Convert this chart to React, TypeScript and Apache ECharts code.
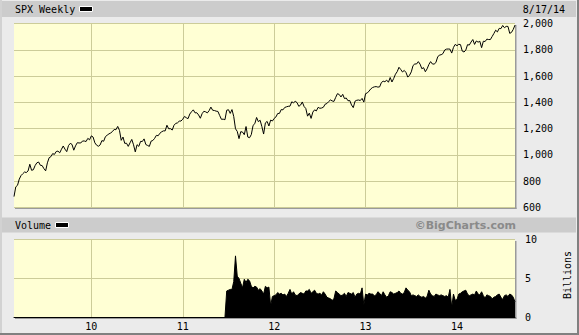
import React, { useEffect, useRef } from "react";
import * as echarts from "echarts";

// Weekly categories are keyed by year code + week number within that year.
const YEARS = ["09", "10", "11", "12", "13", "14"];

// SPX weekly closes
const spx09 = [683, 757, 769, 816, 843, 857, 870, 866, 878, 929, 883, 887, 919, 940, 946, 921, 919, 896, 879, 940, 979, 987, 1010, 1004, 1026, 1029, 1016, 1043, 1068, 1044, 1025, 1071, 1088, 1080, 1036, 1069, 1093, 1091, 1091, 1106, 1106, 1102, 1126, 1115];
const spx10 = [1145, 1136, 1092, 1074, 1066, 1076, 1109, 1104, 1139, 1150, 1160, 1167, 1178, 1194, 1192, 1217, 1187, 1111, 1136, 1088, 1089, 1065, 1092, 1118, 1077, 1023, 1078, 1065, 1103, 1102, 1122, 1079, 1072, 1065, 1105, 1110, 1126, 1149, 1146, 1165, 1176, 1183, 1183, 1226, 1199, 1200, 1189, 1225, 1240, 1244, 1257, 1258];
const spx11 = [1272, 1293, 1283, 1276, 1311, 1329, 1343, 1320, 1321, 1304, 1279, 1314, 1332, 1328, 1320, 1337, 1364, 1340, 1338, 1333, 1331, 1300, 1271, 1272, 1268, 1340, 1344, 1316, 1345, 1292, 1199, 1179, 1124, 1177, 1174, 1154, 1216, 1136, 1131, 1155, 1225, 1238, 1285, 1253, 1264, 1216, 1159, 1244, 1255, 1220, 1265, 1258];
const spx12 = [1278, 1289, 1315, 1316, 1345, 1343, 1361, 1366, 1370, 1371, 1404, 1397, 1408, 1398, 1370, 1379, 1403, 1369, 1353, 1295, 1318, 1278, 1326, 1343, 1335, 1362, 1355, 1357, 1363, 1386, 1391, 1406, 1418, 1411, 1407, 1438, 1466, 1460, 1441, 1461, 1429, 1433, 1412, 1414, 1380, 1360, 1409, 1416, 1418, 1414, 1430, 1402];
const spx13 = [1466, 1472, 1486, 1503, 1513, 1518, 1520, 1516, 1518, 1551, 1561, 1557, 1569, 1553, 1589, 1555, 1582, 1614, 1634, 1667, 1650, 1631, 1643, 1627, 1592, 1606, 1632, 1680, 1692, 1692, 1710, 1691, 1656, 1664, 1633, 1655, 1688, 1710, 1692, 1691, 1703, 1745, 1760, 1762, 1771, 1798, 1805, 1806, 1805, 1775, 1818, 1841];
const spx14 = [1831, 1842, 1839, 1790, 1783, 1797, 1839, 1836, 1859, 1878, 1841, 1867, 1858, 1865, 1816, 1865, 1863, 1881, 1878, 1878, 1901, 1924, 1949, 1936, 1963, 1961, 1985, 1968, 1978, 1978, 1925, 1932, 1955, 1988];
const SPX_BY_YEAR = [spx09, spx10, spx11, spx12, spx13, spx14];

// Volume (billions), available from week 24 of 2011 on
const VOL_FIRST_WEEK_11 = 24;
const vol11 = [0, 3.4, 3.5, 3.6, 3.6, 4.6, 7.9, 5.3, 5.0, 4.4, 3.8, 4.9, 4.5, 4.9, 4.7, 4.0, 3.8, 4.0, 3.9, 3.5, 3.7, 3.4, 3.0, 4.0, 3.8, 3.9, 1.5, 2.7];
const vol12 = [2.8, 2.9, 3.2, 3.0, 3.1, 2.9, 3.0, 2.7, 3.1, 3.6, 3.0, 3.3, 2.9, 2.8, 3.0, 3.2, 3.1, 3.0, 3.4, 3.4, 3.6, 3.1, 3.3, 3.5, 3.1, 3.0, 3.1, 2.9, 3.3, 3.0, 2.6, 2.5, 2.4, 2.2, 2.4, 3.4, 3.2, 3.0, 2.8, 2.9, 3.1, 2.7, 3.2, 3.1, 3.0, 3.2, 2.6, 3.0, 3.1, 3.0, 3.8, 1.6];
const vol13 = [3.0, 2.9, 3.1, 3.0, 3.0, 2.8, 2.9, 3.3, 3.1, 2.8, 3.3, 2.9, 2.6, 2.8, 3.3, 3.2, 3.0, 3.1, 3.2, 3.4, 3.1, 3.0, 3.2, 3.8, 3.5, 3.3, 2.8, 2.9, 2.8, 2.7, 2.9, 2.7, 2.6, 2.7, 2.5, 2.7, 3.5, 3.0, 2.8, 2.7, 3.0, 2.9, 2.8, 2.9, 2.8, 2.7, 2.8, 2.6, 3.6, 1.3, 3.0, 2.2];
const vol14 = [2.3, 3.0, 3.1, 3.3, 3.4, 3.5, 3.0, 2.8, 2.9, 3.0, 2.9, 3.4, 3.0, 2.9, 3.3, 2.8, 2.5, 2.9, 2.8, 2.7, 2.4, 2.6, 2.7, 2.9, 3.0, 2.6, 2.3, 2.8, 2.9, 2.7, 3.0, 2.9, 2.6, 2.0];

const TITLE = "SPX Weekly";
const DATE_TEXT = "8/17/14";
const VOL_TITLE = "Volume";
const CREDIT = "\u00A9BigCharts.com";
const VOL_UNIT = "Billions";

const MONO = "'DejaVu Sans Mono', monospace";
const GRID_COLOR = "#cccc99";
const PLOT_BG = "#ffffd4";
const BAR_BG = "#cccccc";

const categories: string[] = [];
const priceData: number[] = [];
YEARS.forEach((yy, yi) => {
  SPX_BY_YEAR[yi].forEach((v, wi) => {
    categories.push(`${yy}-${wi}`);
    priceData.push(v);
  });
});

const volumeData: [string, number][] = [];
vol11.forEach((v, i) => volumeData.push([`11-${VOL_FIRST_WEEK_11 + i}`, v]));
vol12.forEach((v, i) => volumeData.push([`12-${i}`, v]));
vol13.forEach((v, i) => volumeData.push([`13-${i}`, v]));
vol14.forEach((v, i) => volumeData.push([`14-${i}`, v]));

const isYearStart = (_i: number, v: string) => v.endsWith("-0") && !v.startsWith("09");

function xAxisFor(gridIndex: number) {
  return {
    type: "category",
    gridIndex,
    data: categories,
    boundaryGap: false,
    axisTick: { show: false },
    axisLine: gridIndex === 1 ? { show: true, onZero: false, lineStyle: { color: "#000", width: 1 } } : { show: false },
    axisLabel: {
      show: gridIndex === 1,
      interval: isYearStart,
      formatter: (v: string) => v.split("-")[0],
      fontFamily: MONO,
      fontSize: 10,
      color: "#000",
      margin: 4,
    },
    splitLine: { show: true, interval: isYearStart, lineStyle: { color: GRID_COLOR, width: 1 } },
  };
}

export default function App() {
  const ref = useRef<HTMLDivElement>(null);
  useEffect(() => {
    if (!ref.current) return;
    const chart = echarts.init(ref.current, null, { renderer: "svg" });
    const shadow = "#9a9a9a";
    chart.setOption({
      animation: false,
      backgroundColor: "#ebebeb",
      grid: [
        { left: 14, right: 64, top: 23.5, height: 184, show: true, backgroundColor: PLOT_BG, borderWidth: 0 },
        { left: 14, right: 64, top: 239.5, height: 78, show: true, backgroundColor: PLOT_BG, borderWidth: 0 },
      ],
      xAxis: [xAxisFor(0), xAxisFor(1)],
      yAxis: [
        {
          type: "value",
          gridIndex: 0,
          position: "right",
          min: 600,
          max: 2000,
          interval: 200,
          axisLine: { show: false },
          axisTick: { show: false },
          axisLabel: {
            margin: 8,
            fontFamily: MONO,
            fontSize: 10,
            color: "#000",
            formatter: (v: number) => v.toLocaleString("en-US"),
          },
          splitLine: { lineStyle: { color: GRID_COLOR, width: 1 } },
        },
        {
          type: "value",
          gridIndex: 1,
          position: "right",
          min: 0,
          max: 10,
          interval: 5,
          axisLine: { show: false },
          axisTick: { show: false },
          axisLabel: { margin: 10, fontFamily: MONO, fontSize: 10, color: "#000" },
          splitLine: { lineStyle: { color: GRID_COLOR, width: 1 } },
        },
      ],
      series: [
        {
          type: "line",
          name: TITLE,
          xAxisIndex: 0,
          yAxisIndex: 0,
          data: priceData,
          showSymbol: false,
          symbol: "none",
          lineStyle: { color: "#000", width: 1 },
          silent: true,
        },
        {
          type: "line",
          name: VOL_TITLE,
          xAxisIndex: 1,
          yAxisIndex: 1,
          data: volumeData,
          showSymbol: false,
          symbol: "none",
          lineStyle: { color: "#000", width: 1 },
          areaStyle: { color: "#000", opacity: 1 },
          silent: true,
        },
      ],
      graphic: [
        // frame
        { type: "rect", shape: { x: 0, y: 0, width: 2, height: 335 }, style: { fill: "#d2d2d2" } },
        { type: "rect", shape: { x: 577, y: 0, width: 2, height: 335 }, style: { fill: "#808080" } },
        { type: "rect", shape: { x: 0, y: 333, width: 579, height: 2 }, style: { fill: "#808080" } },
        // header bars
        { type: "rect", shape: { x: 2, y: 1, width: 574, height: 16 }, style: { fill: BAR_BG } },
        { type: "rect", shape: { x: 2, y: 217.5, width: 574, height: 15 }, style: { fill: BAR_BG } },
        { type: "text", x: 15, y: 9, style: { text: TITLE, font: `10px ${MONO}`, fill: "#000", verticalAlign: "middle" } },
        { type: "rect", shape: { x: 79.5, y: 6.5, width: 13, height: 5 }, style: { fill: "#000", stroke: "#fff", lineWidth: 1 } },
        { type: "text", x: 565, y: 9, style: { text: DATE_TEXT, font: `10px ${MONO}`, fill: "#000", align: "right", verticalAlign: "middle" } },
        { type: "text", x: 15, y: 225, style: { text: VOL_TITLE, font: `10px ${MONO}`, fill: "#000", verticalAlign: "middle" } },
        { type: "rect", shape: { x: 55.5, y: 222.5, width: 13, height: 5 }, style: { fill: "#000", stroke: "#fff", lineWidth: 1 } },
        { type: "text", x: 516, y: 225, style: { text: CREDIT, font: `bold 11px 'DejaVu Sans', sans-serif`, fill: "#8a8a8a", align: "right", verticalAlign: "middle" } },
        // plot shadows
        { type: "rect", shape: { x: 15, y: 207.5, width: 501.5, height: 1.5 }, style: { fill: shadow } },
        { type: "rect", shape: { x: 515, y: 25, width: 1.5, height: 184 }, style: { fill: shadow } },
        { type: "rect", shape: { x: 15, y: 317.5, width: 501.5, height: 1.5 }, style: { fill: shadow } },
        { type: "rect", shape: { x: 515, y: 241, width: 1.5, height: 78 }, style: { fill: shadow } },
        // unit
        { type: "text", x: 567, y: 275, rotation: Math.PI / 2, style: { text: VOL_UNIT, font: `10px ${MONO}`, fill: "#000", align: "center", verticalAlign: "middle" } },
      ],
    });
    return () => chart.dispose();
  }, []);
  return <div ref={ref} style={{ position: "fixed", left: 0, top: 0, width: 579, height: 335 }} />;
}
